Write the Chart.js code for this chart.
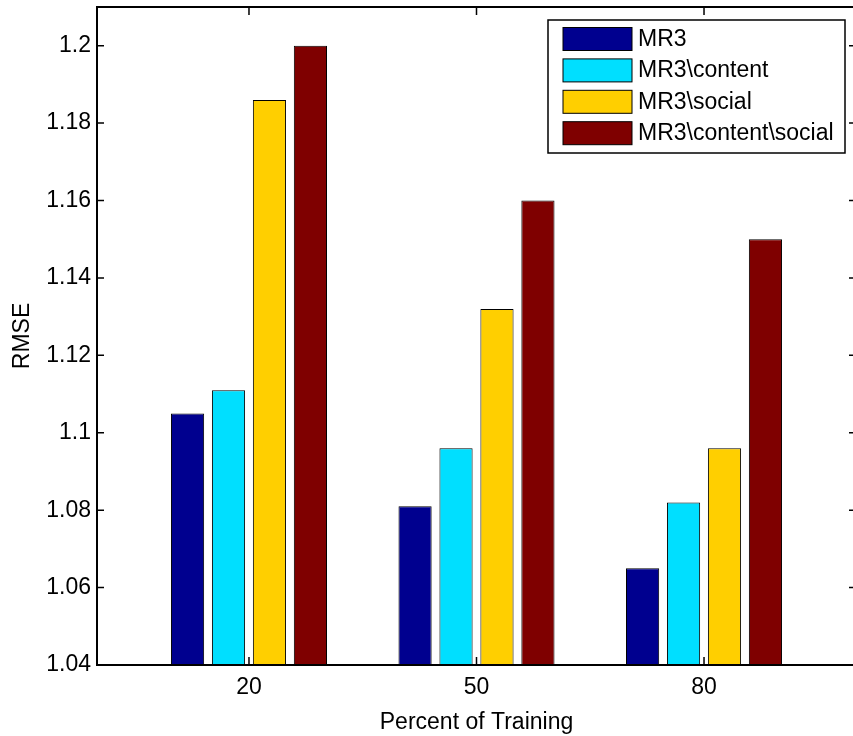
<!DOCTYPE html>
<html>
<head>
<meta charset="utf-8">
<script src="https://cdn.jsdelivr.net/npm/chart.js@4.4.1/dist/chart.umd.min.js"></script>
<style>
  html, body { margin: 0; padding: 0; background: #fff; overflow: hidden; }
</style>
</head>
<body>
<canvas id="chartRmse" width="858" height="736"></canvas>
<script>
// Dados
const categories = ["20", "50", "80"];
const seriesNames = ["MR3", "MR3\\content", "MR3\\social", "MR3\\content\\social"];
const mr3 = [1.105, 1.081, 1.065];
const mr3Content = [1.111, 1.096, 1.082];
const mr3Social = [1.186, 1.132, 1.096];
const mr3ContentSocial = [1.200, 1.160, 1.150];
const yTicks = [1.04, 1.06, 1.08, 1.1, 1.12, 1.14, 1.16, 1.18, 1.2];
const yTickLabels = ["1.04", "1.06", "1.08", "1.1", "1.12", "1.14", "1.16", "1.18", "1.2"];

const seriesValues = [mr3, mr3Content, mr3Social, mr3ContentSocial];
const seriesColors = ["#00008f", "#00dfff", "#ffcf00", "#7f0000"];

Chart.defaults.font.family = "'Liberation Sans', Arial, sans-serif";
Chart.defaults.color = "#000";

// Moldura estilo MATLAB com ticks para dentro
const frame = {
  id: "frame",
  afterDatasetsDraw(chart) {
    const { ctx, chartArea: a, scales } = chart;
    ctx.save();
    ctx.strokeStyle = "#000";
    ctx.lineWidth = 1.5;
    ctx.beginPath();
    categories.forEach((c, i) => {
      const px = scales.x.getPixelForValue(i + 1);
      ctx.moveTo(px, a.bottom);
      ctx.lineTo(px, a.bottom - 8);
      ctx.moveTo(px, a.top);
      ctx.lineTo(px, a.top + 8);
    });
    yTicks.forEach((v) => {
      const py = scales.y.getPixelForValue(v);
      ctx.moveTo(a.left, py);
      ctx.lineTo(a.left + 7, py);
      ctx.moveTo(a.right, py);
      ctx.lineTo(a.right - 7, py);
    });
    ctx.stroke();
    ctx.lineWidth = 2;
    ctx.strokeRect(a.left, a.top, a.right - a.left, a.bottom - a.top);
    ctx.restore();
  },
};

// Legenda dentro do gráfico
const legendBox = {
  id: "legendBox",
  afterDraw(chart) {
    const ctx = chart.ctx;
    const x = 548, y = 20, w = 297, h = 133;
    ctx.save();
    ctx.fillStyle = "#fff";
    ctx.fillRect(x, y, w, h);
    ctx.strokeStyle = "#000";
    ctx.lineWidth = 1.5;
    ctx.strokeRect(x, y, w, h);
    ctx.font = "23px 'Liberation Sans', Arial, sans-serif";
    ctx.textBaseline = "middle";
    chart.data.datasets.forEach((ds, i) => {
      const top = 27.5 + i * 31.4;
      ctx.fillStyle = ds.backgroundColor;
      ctx.fillRect(563, top, 69, 23);
      ctx.lineWidth = 1;
      ctx.strokeRect(563, top, 69, 23);
      ctx.fillStyle = "#000";
      ctx.fillText(ds.label, 638, top + 12);
    });
    ctx.restore();
  },
};

const rmse = document.getElementById("chartRmse");

new Chart(rmse, {
  type: "bar",
  data: {
    datasets: seriesValues.map((vals, s) => ({
      label: seriesNames[s],
      data: vals.map((v, i) => ({ x: i + 1, y: v })),
      backgroundColor: seriesColors[s],
      borderColor: "#000",
      borderWidth: 1,
      borderSkipped: false,
      categoryPercentage: 0.72,
      barPercentage: 0.81,
    })),
  },
  options: {
    responsive: false,
    animation: false,
    layout: { padding: { top: 7, right: 2, left: 0, bottom: 0 } },
    plugins: {
      legend: { display: false },
      tooltip: { enabled: false },
    },
    scales: {
      x: {
        type: "linear",
        offset: false,
        min: 0.332,
        max: 3.668,
        grid: { display: false, drawTicks: false },
        border: { display: false },
        afterBuildTicks: (scale) => {
          scale.ticks = categories.map((c, i) => ({ value: i + 1 }));
        },
        afterFit: (scale) => {
          scale.height = 71;
          scale.paddingLeft = 0;
          scale.paddingRight = 0;
        },
        ticks: {
          padding: 9,
          maxRotation: 0,
          font: { size: 23 },
          callback: (value) => categories[Math.round(value) - 1],
        },
        title: {
          display: true,
          text: "Percent of Training",
          font: { size: 23 },
          padding: { top: 0, bottom: 0 },
        },
      },
      y: {
        min: 1.04,
        max: 1.21,
        grid: { display: false, drawTicks: false },
        border: { display: false },
        afterBuildTicks: (scale) => {
          scale.ticks = yTicks.map((v) => ({ value: v }));
        },
        afterFit: (scale) => {
          scale.width = 97;
          scale.paddingTop = 0;
          scale.paddingBottom = 0;
        },
        ticks: {
          padding: 6,
          font: { size: 23 },
          callback: (value, index) => yTickLabels[index],
        },
        title: {
          display: true,
          text: "RMSE",
          font: { size: 23 },
          padding: { top: 9, bottom: 0 },
        },
      },
    },
  },
  plugins: [frame, legendBox],
});
</script>
</body>
</html>
